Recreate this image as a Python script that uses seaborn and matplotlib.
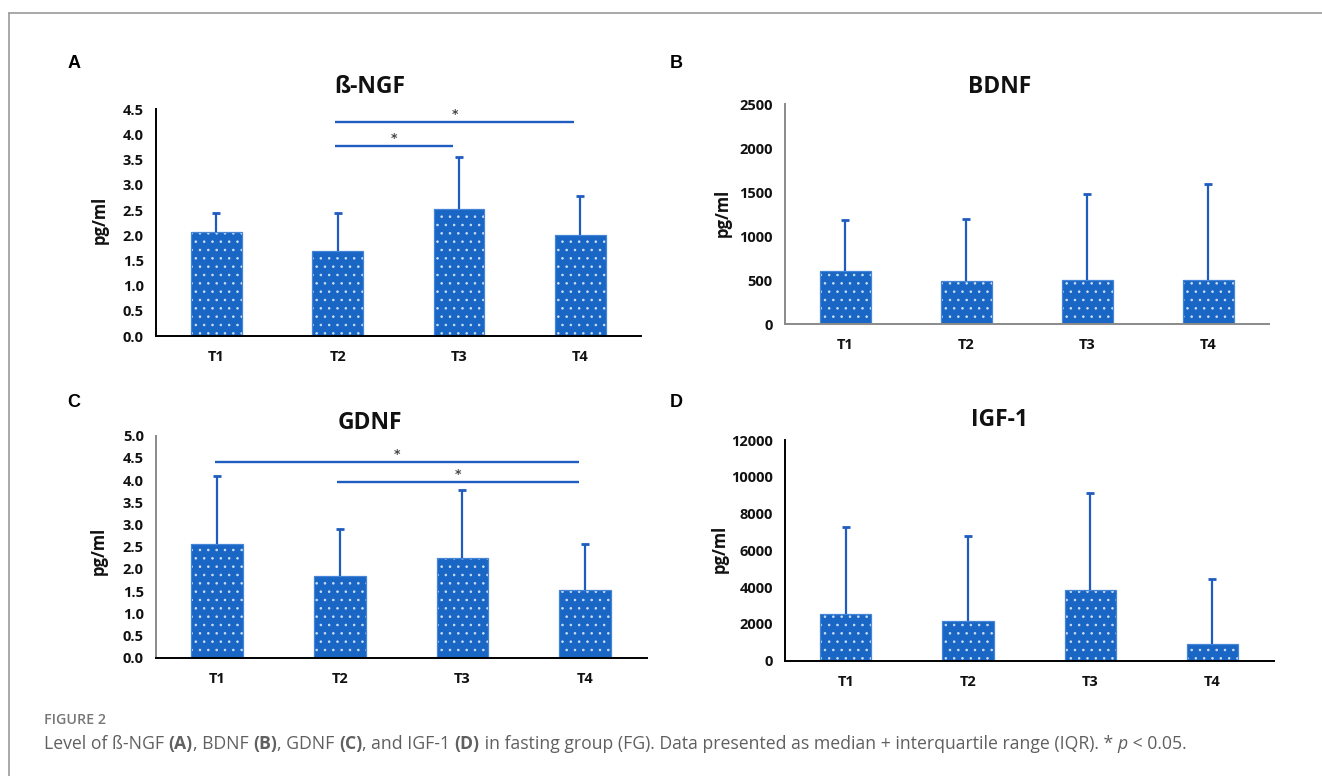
import numpy as np
import pandas as pd
import matplotlib
matplotlib.use("Agg")
import matplotlib.pyplot as plt
from matplotlib.patches import Rectangle
from matplotlib.lines import Line2D
from matplotlib.offsetbox import TextArea, HPacker, AnchoredOffsetbox
import seaborn as sns

sns.set_style("white")
plt.rcParams["font.family"] = ["Open Sans", "DejaVu Sans"]
plt.rcParams["hatch.linewidth"] = 0.6

W, H = 1322, 776

times = ["T1", "T2", "T3", "T4"]

# median and upper end of IQR
ngf_median = [2.07, 1.69, 2.53, 2.00]
ngf_upper = [2.44, 2.44, 3.56, 2.78]
bdnf_median = [600, 490, 500, 500]
bdnf_upper = [1180, 1200, 1480, 1590]
gdnf_median = [2.57, 1.83, 2.25, 1.52]
gdnf_upper = [4.10, 2.89, 3.78, 2.55]
igf_median = [2550, 2150, 3850, 900]
igf_upper = [7250, 6800, 9100, 4450]

# significance bars: (from group, to group, height)
ngf_sig = [(1, 3, 4.25), (1, 2, 3.77)]
gdnf_sig = [(0, 3, 4.41), (1, 3, 3.96)]

bar_blue = "#1966c4"
edge_blue = "#4585d8"
err_blue = "#1f5cc0"


def px_rect(left, top, right, bottom):
    return [left / W, 1 - bottom / H, (right - left) / W, (bottom - top) / H]


def draw_panel(ax, median, upper, ymax, ystep, yfmt, xcol, ycol, sig=None):
    df = pd.DataFrame({"time": times, "median": median, "upper": upper})
    sns.barplot(data=df, x="time", y="median", ax=ax, color=bar_blue,
                width=0.42, errorbar=None, saturation=1, linewidth=0)
    for p in list(ax.patches):
        p.set_hatch("..")
        p.set_edgecolor("#cfe0f7")
        p.set_linewidth(0)
        ax.add_patch(Rectangle(p.get_xy(), p.get_width(), p.get_height(),
                               fill=False, edgecolor=edge_blue, linewidth=0.9,
                               zorder=p.get_zorder() + 0.1))

    err = np.array(df["upper"]) - np.array(df["median"])
    eb = ax.errorbar(range(len(times)), df["median"], yerr=[np.zeros(len(err)), err],
                     fmt="none", ecolor=err_blue, elinewidth=1.6, capsize=3.2,
                     capthick=2.0, zorder=3)
    eb[1][0].set_visible(False)

    if sig:
        for i, j, h in sig:
            x0, x1 = i - 0.02, j - 0.05
            ax.plot([x0, x1], [h, h], color=err_blue, lw=1.7, solid_capstyle="butt",
                    clip_on=False)
            ax.text((x0 + x1) / 2, h + ymax * 0.006, "*", ha="center", va="bottom",
                    fontsize=9, fontweight="bold", color="#444444",
                    family="DejaVu Sans")

    ax.set_xlim(-0.5, len(times) - 0.5)
    ax.set_ylim(0, ymax)
    yt = np.arange(0, ymax + ystep / 2, ystep)
    ax.set_yticks(yt)
    ax.set_yticklabels([yfmt.format(v) for v in yt])
    ax.set_xticks(range(len(times)))
    ax.set_xticklabels(times)
    ax.set_xticks(np.arange(-0.5, len(times), 1.0), minor=True)
    ax.set_xlabel("")
    ax.set_ylabel("")

    for s in ["top", "right"]:
        ax.spines[s].set_visible(False)
    ax.spines["bottom"].set_color(xcol)
    ax.spines["left"].set_color(ycol)
    ax.spines["bottom"].set_linewidth(1.4)
    ax.spines["left"].set_linewidth(1.4)

    ax.tick_params(axis="x", which="major", length=0, pad=10, labelsize=10.5,
                   labelcolor="#111111")
    ax.tick_params(axis="x", which="minor", length=4, width=1.2, color=xcol,
                   direction="out")
    ax.tick_params(axis="y", which="major", length=4, width=1.2, color=ycol,
                   direction="out", pad=4.5, labelsize=10.5, labelcolor="#111111")
    for lab in ax.get_xticklabels() + ax.get_yticklabels():
        lab.set_fontweight("bold")


fig = plt.figure(figsize=(W / 100, H / 100), dpi=100)
fig.patch.set_facecolor("white")

ax_a = fig.add_axes(px_rect(155.7, 109.3, 641, 336))
ax_b = fig.add_axes(px_rect(784.6, 104.3, 1268.6, 324))
ax_c = fig.add_axes(px_rect(155.7, 435.7, 646.5, 657.7))
ax_d = fig.add_axes(px_rect(784.6, 440, 1273.6, 660.7))

draw_panel(ax_a, ngf_median, ngf_upper, 4.5, 0.5, "{:.1f}", "black", "black", ngf_sig)
draw_panel(ax_b, bdnf_median, bdnf_upper, 2500, 500, "{:.0f}", "#8a8a8a", "#8a8a8a")
draw_panel(ax_c, gdnf_median, gdnf_upper, 5.0, 0.5, "{:.1f}", "black", "#8a8a8a", gdnf_sig)
draw_panel(ax_d, igf_median, igf_upper, 12000, 2000, "{:.0f}", "black", "black")

titles = [("ß-NGF", 370, 86.7), ("BDNF", 1000, 86.7), ("GDNF", 370, 422.7), ("IGF-1", 1000, 420)]
for t, x, y in titles:
    fig.text(x / W, 1 - y / H, t, ha="center", va="center", fontsize=16.5,
             fontweight="bold", color="#111111")

letters = [("A", 68, 63), ("B", 670, 64), ("C", 67, 402.5), ("D", 670, 402.5)]
for t, x, y in letters:
    fig.text(x / W, 1 - y / H, t, ha="left", va="center", fontsize=13,
             fontweight="bold", family="Liberation Sans", color="black")

ylabels = [(100, 220), (723, 213), (99, 551), (720, 549)]
for x, y in ylabels:
    fig.text(x / W, 1 - y / H, "pg/ml", ha="center", va="center", rotation=90,
             fontsize=12, fontweight="bold", color="#111111")

# figure frame
fig.add_artist(Line2D([9.3 / W, 1], [1 - 13.3 / H] * 2, transform=fig.transFigure,
                      color="#9a9a9a", lw=1.2))
fig.add_artist(Line2D([9.3 / W] * 2, [0, 1 - 13.3 / H], transform=fig.transFigure,
                      color="#9a9a9a", lw=1.2))

# caption
fig.text(44 / W, 1 - 720 / H, "FIGURE 2", ha="left", va="center", fontsize=10.3,
         fontweight="semibold", color="#777777")

cap_color = "#606060"
parts = [
    ("Level of ß-NGF ", "normal", "normal"), ("(A)", "bold", "normal"),
    (", BDNF ", "normal", "normal"), ("(B)", "bold", "normal"),
    (", GDNF ", "normal", "normal"), ("(C)", "bold", "normal"),
    (", and IGF-1 ", "normal", "normal"), ("(D)", "bold", "normal"),
    (" in fasting group (FG). Data presented as median + interquartile range (IQR). * ",
     "normal", "normal"),
    ("p", "normal", "italic"), (" < 0.05.", "normal", "normal"),
]
boxes = [TextArea(s, textprops=dict(fontsize=12.7, fontweight=w, fontstyle=st,
                                    color=cap_color)) for s, w, st in parts]
pack = HPacker(children=boxes, align="baseline", pad=0, sep=0)
anch = AnchoredOffsetbox(loc="center left", child=pack, pad=0, borderpad=0,
                         frameon=False, bbox_to_anchor=(44 / W, 1 - 744 / H),
                         bbox_transform=fig.transFigure)
fig.add_artist(anch)

fig.savefig("out.png", dpi=100, facecolor="white")
